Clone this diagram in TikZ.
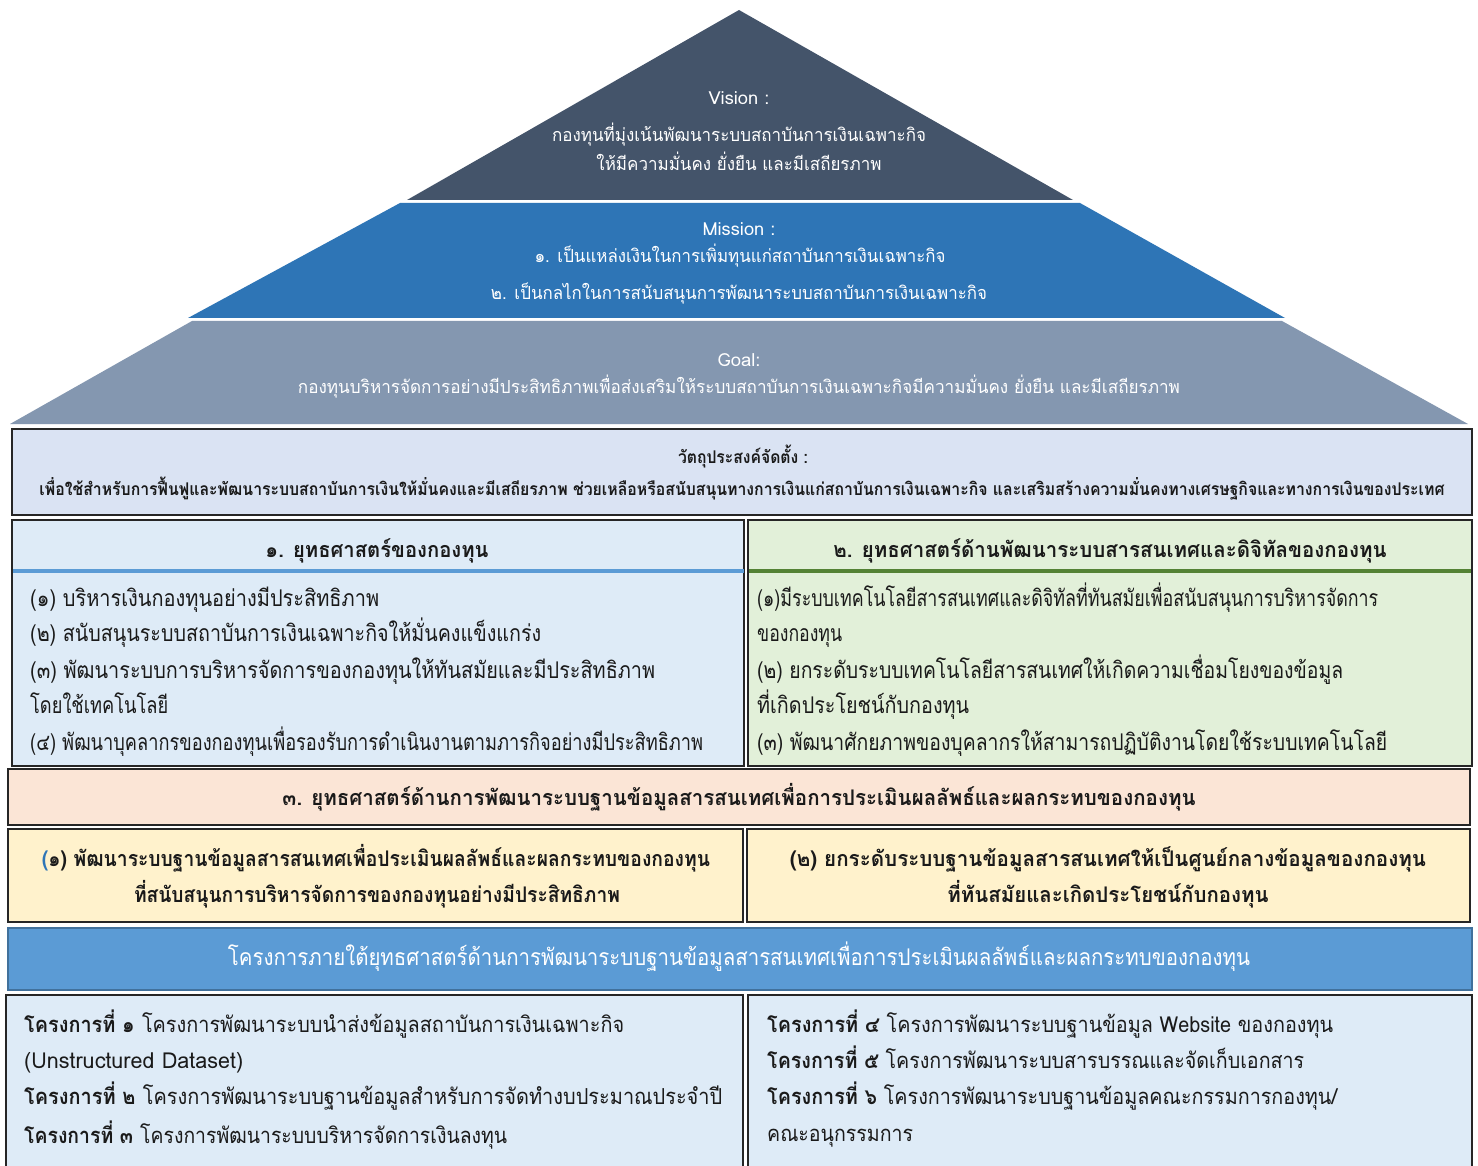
\documentclass[tikz,border=0pt]{standalone}
\usepackage{fontspec}
\usepackage{graphicx}
\setmainfont[Script=Thai]{Loma}
\definecolor{visionc}{HTML}{44546A}
\definecolor{missionc}{HTML}{2E75B6}
\definecolor{goalc}{HTML}{8497B0}
\definecolor{objfill}{HTML}{DAE3F3}
\definecolor{sonefill}{HTML}{DEEBF7}
\definecolor{stwofill}{HTML}{E2F0D9}
\definecolor{sthreefill}{HTML}{FBE5D6}
\definecolor{subfill}{HTML}{FFF2CC}
\definecolor{barfill}{HTML}{5B9BD5}
\definecolor{barborder}{HTML}{41719C}
\definecolor{blueline}{HTML}{5B9BD5}
\definecolor{greenline}{HTML}{548235}
\definecolor{boxline}{HTML}{262626}
\definecolor{txt}{HTML}{1A1A1A}
\newcommand\fw[2]{\resizebox{#1pt}{\height}{#2}}
\tikzset{
  boxst/.style={draw=boxline, line width=1.6pt},
  tshift/.style={yshift=-3.5pt},
  pyr/.style={font=\fontsize{18}{21}\selectfont, text=white, inner sep=0pt, anchor=mid, tshift},
  objt/.style={font=\bfseries\fontsize{17.5}{21}\selectfont, text=txt, inner sep=0pt, anchor=mid, tshift},
  head/.style={font=\bfseries\fontsize{21.5}{25}\selectfont, text=txt, inner sep=0pt, anchor=mid, tshift},
  item/.style={font=\fontsize{23}{27}\selectfont, text=txt, inner sep=0pt, anchor=mid west, tshift},
  proj/.style={font=\fontsize{22}{26}\selectfont, text=txt, inner sep=0pt, anchor=mid west, tshift},
  bart/.style={font=\fontsize{23}{27}\selectfont, text=white, inner sep=0pt, anchor=mid, tshift},
}
\begin{document}
\begin{tikzpicture}[x=1pt,y=-1pt]
\useasboundingbox (0,0) rectangle (1478,1166);
\fill[white] (0,0) rectangle (1478,1166);
% pyramid
\fill[visionc] (739,10) -- (1073,200) -- (407,200) -- cycle;
\fill[missionc] (400,203) -- (1080,203) -- (1285,318) -- (188,318) -- cycle;
\fill[goalc] (192,321) -- (1282,321) -- (1468,424) -- (10,424) -- cycle;
\node[pyr] (vh) at (739,98) {\fw{61}{Vision :}};
\node[pyr] (v1) at (739,135) {\fw{374}{กองทุนที่มุ่งเน้นพัฒนาระบบสถาบันการเงินเฉพาะกิจ}};
\node[pyr] (v2) at (739,164) {\fw{285}{ให้มีความมั่นคง ยั่งยืน และมีเสถียรภาพ}};
\node[pyr] (mh) at (739,229) {\fw{73}{Mission :}};
\node[pyr] (m1) at (740,256) {\fw{411}{๑. เป็นแหล่งเงินในการเพิ่มทุนแก่สถาบันการเงินเฉพาะกิจ}};
\node[pyr] (m2) at (739,293) {\fw{496}{๒. เป็นกลไกในการสนับสนุนการพัฒนาระบบสถาบันการเงินเฉพาะกิจ}};
\node[pyr] (gh) at (739,360) {\fw{43}{Goal:}};
\node[pyr] (g1) at (739,387) {\fw{882}{กองทุนบริหารจัดการอย่างมีประสิทธิภาพเพื่อส่งเสริมให้ระบบสถาบันการเงินเฉพาะกิจมีความมั่นคง ยั่งยืน และมีเสถียรภาพ}};
% objective
\draw[boxst, fill=objfill] (12,429) rectangle (1472,515);
\node[objt] (oh) at (743,457) {\fw{130}{วัตถุประสงค์จัดตั้ง :}};
\node[objt] (o1) at (742,489) {\fw{1405}{เพื่อใช้สำหรับการฟื้นฟูและพัฒนาระบบสถาบันการเงินให้มั่นคงและมีเสถียรภาพ ช่วยเหลือหรือสนับสนุนทางการเงินแก่สถาบันการเงินเฉพาะกิจ และเสริมสร้างความมั่นคงทางเศรษฐกิจและทางการเงินของประเทศ}};
% strategy 1 and 2
\draw[boxst, fill=sonefill] (12,520) rectangle (744,766);
\draw[boxst, fill=stwofill] (748,520) rectangle (1472,766);
\draw[blueline, line width=3.5pt] (13,571) -- (744,571);
\draw[greenline, line width=3.5pt] (749,571) -- (1471,571);
\node[head] (s1h) at (377,551) {\fw{223}{๑. ยุทธศาสตร์ของกองทุน}};
\node[head] (s2h) at (1110,551) {\fw{553}{๒. ยุทธศาสตร์ด้านพัฒนาระบบสารสนเทศและดิจิทัลของกองทุน}};
\node[item] (s1a) at (30,600) {\fw{349}{(๑) บริหารเงินกองทุนอย่างมีประสิทธิภาพ}};
\node[item] (s1b) at (30,635) {\fw{511}{(๒) สนับสนุนระบบสถาบันการเงินเฉพาะกิจให้มั่นคงแข็งแกร่ง}};
\node[item] (s1c) at (30,672) {\fw{625}{(๓) พัฒนาระบบการบริหารจัดการของกองทุนให้ทันสมัยและมีประสิทธิภาพ}};
\node[item] (s1d) at (30,707) {\fw{138}{โดยใช้เทคโนโลยี}};
\node[item] (s1e) at (30,744) {\fw{673}{(๔) พัฒนาบุคลากรของกองทุนเพื่อรองรับการดำเนินงานตามภารกิจอย่างมีประสิทธิภาพ}};
\node[item] (s2a) at (757,600) {\fw{621}{(๑)มีระบบเทคโนโลยีสารสนเทศและดิจิทัลที่ทันสมัยเพื่อสนับสนุนการบริหารจัดการ}};
\node[item] (s2b) at (757,635) {\fw{85}{ของกองทุน}};
\node[item] (s2c) at (757,672) {\fw{586}{(๒) ยกระดับระบบเทคโนโลยีสารสนเทศให้เกิดความเชื่อมโยงของข้อมูล}};
\node[item] (s2d) at (757,707) {\fw{212}{ที่เกิดประโยชน์กับกองทุน}};
\node[item] (s2e) at (757,744) {\fw{630}{(๓) พัฒนาศักยภาพของบุคลากรให้สามารถปฏิบัติงานโดยใช้ระบบเทคโนโลยี}};
% strategy 3
\draw[boxst, fill=sthreefill] (8,769) rectangle (1470,825);
\node[head] (s3h) at (739,799) {\fw{913}{๓. ยุทธศาสตร์ด้านการพัฒนาระบบฐานข้อมูลสารสนเทศเพื่อการประเมินผลลัพธ์และผลกระทบของกองทุน}};
\draw[boxst, fill=subfill] (8,829) rectangle (743,922);
\draw[boxst, fill=subfill] (747,829) rectangle (1470,922);
\node[head] (sl1) at (376,860) {\fw{668}{{\color{missionc}(}๑) พัฒนาระบบฐานข้อมูลสารสนเทศเพื่อประเมินผลลัพธ์และผลกระทบของกองทุน}};
\node[head] (sl2) at (377,896) {\fw{486}{ที่สนับสนุนการบริหารจัดการของกองทุนอย่างมีประสิทธิภาพ}};
\node[head] (sr1) at (1108,860) {\fw{636}{(๒) ยกระดับระบบฐานข้อมูลสารสนเทศให้เป็นศูนย์กลางข้อมูลของกองทุน}};
\node[head] (sr2) at (1108,896) {\fw{321}{ที่ทันสมัยและเกิดประโยชน์กับกองทุน}};
% projects bar
\draw[draw=barborder, line width=2pt, fill=barfill] (8,928) rectangle (1472,990);
\node[bart] (bt) at (739,959) {\fw{1022}{โครงการภายใต้ยุทธศาสตร์ด้านการพัฒนาระบบฐานข้อมูลสารสนเทศเพื่อการประเมินผลลัพธ์และผลกระทบของกองทุน}};
% projects
\draw[boxst, fill=sonefill] (6,995) rectangle (743,1170);
\draw[boxst, fill=sonefill] (748,995) rectangle (1472,1170);
\node[proj] (p1) at (24,1026) {\fw{600}{\textbf{โครงการที่ ๑}\hspace{8pt}โครงการพัฒนาระบบนำส่งข้อมูลสถาบันการเงินเฉพาะกิจ}};
\node[proj] (p1b) at (24,1062) {\fw{219}{(Unstructured Dataset)}};
\node[proj] (p2) at (24,1098) {\fw{698}{\textbf{โครงการที่ ๒}\hspace{8pt}โครงการพัฒนาระบบฐานข้อมูลสำหรับการจัดทำงบประมาณประจำปี}};
\node[proj] (p3) at (24,1137) {\fw{483}{\textbf{โครงการที่ ๓}\hspace{8pt}โครงการพัฒนาระบบบริหารจัดการเงินลงทุน}};
\node[proj] (p4) at (767,1026) {\fw{566}{\textbf{โครงการที่ ๔} โครงการพัฒนาระบบฐานข้อมูล Website ของกองทุน}};
\node[proj] (p5) at (767,1062) {\fw{537}{\textbf{โครงการที่ ๕} โครงการพัฒนาระบบสารบรรณและจัดเก็บเอกสาร}};
\node[proj] (p6) at (767,1098) {\fw{570}{\textbf{โครงการที่ ๖} โครงการพัฒนาระบบฐานข้อมูลคณะกรรมการกองทุน/}};
\node[proj] (p6b) at (767,1135) {\fw{146}{คณะอนุกรรมการ}};
\end{tikzpicture}
\end{document}
